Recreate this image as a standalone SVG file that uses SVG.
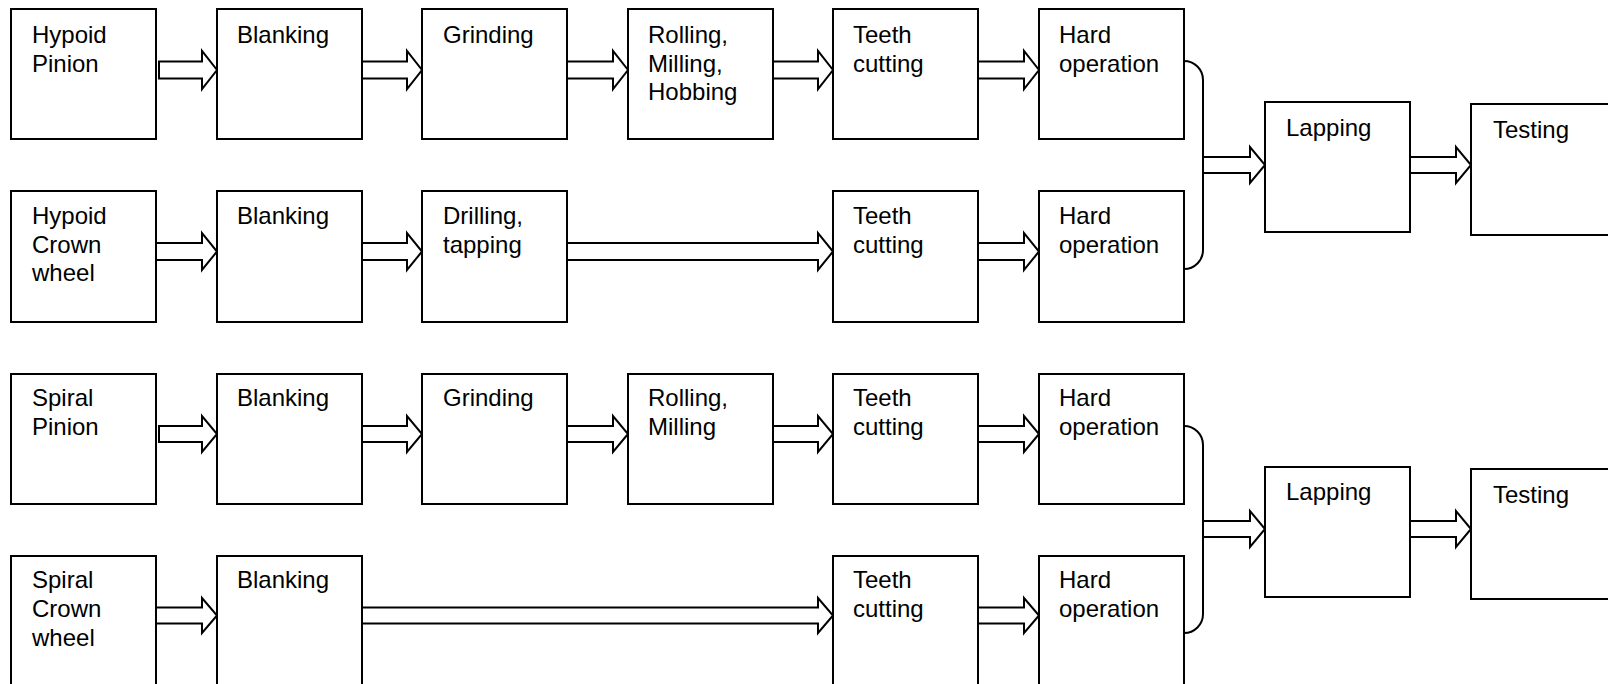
<svg xmlns="http://www.w3.org/2000/svg" width="1608" height="684" viewBox="0 0 1608 684">
<style>
.box{fill:#fff;stroke:#000;stroke-width:2}
.arr{fill:#fff;stroke:#000;stroke-width:2;stroke-linejoin:miter}
.brace{fill:none;stroke:#000;stroke-width:2}
text{font-family:"Liberation Sans",Arial,sans-serif;font-size:24px;fill:#000}
</style>
<rect width="1608" height="684" fill="#fff"/>
<g id="connectors">
<!-- row 1 -->
<polygon class="arr" points="159,61.5 202,61.5 202,51 217,70 202,89 202,78.5 159,78.5"/>
<polygon class="arr" points="362,61.5 407,61.5 407,51 422,70 407,89 407,78.5 362,78.5"/>
<polygon class="arr" points="567,61.5 613,61.5 613,51 628,70 613,89 613,78.5 567,78.5"/>
<polygon class="arr" points="773,61.5 818,61.5 818,51 833,70 818,89 818,78.5 773,78.5"/>
<polygon class="arr" points="978,61.5 1024,61.5 1024,51 1039,70 1024,89 1024,78.5 978,78.5"/>
<!-- row 2 -->
<polygon class="arr" points="156,243 202,243 202,233 217,251.5 202,270 202,260 156,260"/>
<polygon class="arr" points="362,243 407,243 407,233 422,251.5 407,270 407,260 362,260"/>
<polygon class="arr" points="567,243 818,243 818,233 833,251.5 818,270 818,260 567,260"/>
<polygon class="arr" points="978,243 1024,243 1024,233 1039,251.5 1024,270 1024,260 978,260"/>
<!-- row 3 -->
<polygon class="arr" points="159,426 202,426 202,416 217,434 202,452 202,442 159,442"/>
<polygon class="arr" points="362,426 407,426 407,416 422,434 407,452 407,442 362,442"/>
<polygon class="arr" points="567,426 613,426 613,416 628,434 613,452 613,442 567,442"/>
<polygon class="arr" points="773,426 818,426 818,416 833,434 818,452 818,442 773,442"/>
<polygon class="arr" points="978,426 1024,426 1024,416 1039,434 1024,452 1024,442 978,442"/>
<!-- row 4 -->
<polygon class="arr" points="156,607.5 202,607.5 202,598 217,615.5 202,633 202,623.5 156,623.5"/>
<polygon class="arr" points="362,607.5 818,607.5 818,598 833,615.5 818,633 818,623.5 362,623.5"/>
<polygon class="arr" points="978,607.5 1024,607.5 1024,598 1039,615.5 1024,633 1024,623.5 978,623.5"/>
<!-- braces -->
<path class="brace" d="M1184,61 A19,19 0 0 1 1203,80 V250 A19,19 0 0 1 1184,269"/>
<path class="brace" d="M1184,426 A19,19 0 0 1 1203,445 V614 A19,19 0 0 1 1184,633"/>
<!-- to lapping / testing -->
<polygon class="arr" points="1203,157 1250,157 1250,147 1265,165 1250,183 1250,173 1203,173"/>
<polygon class="arr" points="1410,157 1456,157 1456,147 1471,165 1456,183 1456,173 1410,173"/>
<polygon class="arr" points="1203,521 1250,521 1250,511 1265,529 1250,547 1250,537 1203,537"/>
<polygon class="arr" points="1410,521 1456,521 1456,511 1471,529 1456,547 1456,537 1410,537"/>
</g>
<!-- Row 1 -->
<g id="hypoid-pinion"><rect class="box" x="11" y="9" width="145" height="130"/><text x="32" y="43">Hypoid</text><text x="32" y="71.5">Pinion</text></g>
<g id="r1-blanking"><rect class="box" x="217" y="9" width="145" height="130"/><text x="237" y="43">Blanking</text></g>
<g id="r1-grinding"><rect class="box" x="422" y="9" width="145" height="130"/><text x="443" y="43">Grinding</text></g>
<g id="r1-rolling"><rect class="box" x="628" y="9" width="145" height="130"/><text x="648" y="43">Rolling,</text><text x="648" y="71.5">Milling,</text><text x="648" y="100">Hobbing</text></g>
<g id="r1-teeth"><rect class="box" x="833" y="9" width="145" height="130"/><text x="853" y="43">Teeth</text><text x="853" y="71.5">cutting</text></g>
<g id="r1-hard"><rect class="box" x="1039" y="9" width="145" height="130"/><text x="1059" y="43">Hard</text><text x="1059" y="71.5">operation</text></g>
<!-- Row 2 -->
<g id="hypoid-crown"><rect class="box" x="11" y="191" width="145" height="131"/><text x="32" y="224">Hypoid</text><text x="32" y="252.5">Crown</text><text x="32" y="281">wheel</text></g>
<g id="r2-blanking"><rect class="box" x="217" y="191" width="145" height="131"/><text x="237" y="224">Blanking</text></g>
<g id="r2-drilling"><rect class="box" x="422" y="191" width="145" height="131"/><text x="443" y="224">Drilling,</text><text x="443" y="252.5">tapping</text></g>
<g id="r2-teeth"><rect class="box" x="833" y="191" width="145" height="131"/><text x="853" y="224">Teeth</text><text x="853" y="252.5">cutting</text></g>
<g id="r2-hard"><rect class="box" x="1039" y="191" width="145" height="131"/><text x="1059" y="224">Hard</text><text x="1059" y="252.5">operation</text></g>
<!-- Lapping/Testing A -->
<g id="lapping-a"><rect class="box" x="1265" y="102" width="145" height="130"/><text x="1286" y="136">Lapping</text></g>
<g id="testing-a"><rect class="box" x="1471" y="104" width="150" height="131"/><text x="1493" y="138">Testing</text></g>
<!-- Row 3 -->
<g id="spiral-pinion"><rect class="box" x="11" y="374" width="145" height="130"/><text x="32" y="406">Spiral</text><text x="32" y="435">Pinion</text></g>
<g id="r3-blanking"><rect class="box" x="217" y="374" width="145" height="130"/><text x="237" y="406">Blanking</text></g>
<g id="r3-grinding"><rect class="box" x="422" y="374" width="145" height="130"/><text x="443" y="406">Grinding</text></g>
<g id="r3-rolling"><rect class="box" x="628" y="374" width="145" height="130"/><text x="648" y="406">Rolling,</text><text x="648" y="435">Milling</text></g>
<g id="r3-teeth"><rect class="box" x="833" y="374" width="145" height="130"/><text x="853" y="406">Teeth</text><text x="853" y="435">cutting</text></g>
<g id="r3-hard"><rect class="box" x="1039" y="374" width="145" height="130"/><text x="1059" y="406">Hard</text><text x="1059" y="435">operation</text></g>
<!-- Row 4 -->
<g id="spiral-crown"><rect class="box" x="11" y="556" width="145" height="131"/><text x="32" y="588">Spiral</text><text x="32" y="617">Crown</text><text x="32" y="645.5">wheel</text></g>
<g id="r4-blanking"><rect class="box" x="217" y="556" width="145" height="131"/><text x="237" y="588">Blanking</text></g>
<g id="r4-teeth"><rect class="box" x="833" y="556" width="145" height="131"/><text x="853" y="588">Teeth</text><text x="853" y="617">cutting</text></g>
<g id="r4-hard"><rect class="box" x="1039" y="556" width="145" height="131"/><text x="1059" y="588">Hard</text><text x="1059" y="617">operation</text></g>
<!-- Lapping/Testing B -->
<g id="lapping-b"><rect class="box" x="1265" y="467" width="145" height="130"/><text x="1286" y="500">Lapping</text></g>
<g id="testing-b"><rect class="box" x="1471" y="469" width="150" height="130"/><text x="1493" y="503">Testing</text></g>
</svg>
